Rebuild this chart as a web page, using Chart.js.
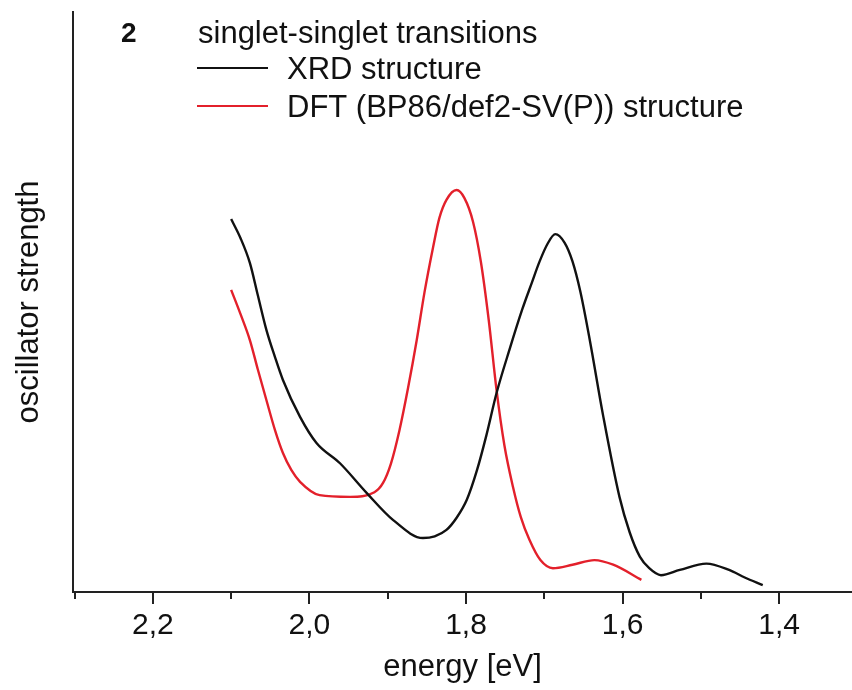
<!DOCTYPE html>
<html>
<head>
<meta charset="utf-8">
<script src="https://cdn.jsdelivr.net/npm/chart.js@4.4.1/dist/chart.umd.min.js"></script>
<style>
  html, body { margin: 0; padding: 0; background: #fff; }
</style>
</head>
<body>
<canvas id="chart" width="852" height="690"></canvas>
<script>
// values (energy in eV, oscillator strength in arbitrary units)
const xrdEnergy = [2.100, 2.088, 2.076, 2.066, 2.055, 2.044, 2.034, 2.012, 1.991, 1.961, 1.927, 1.893, 1.855, 1.840, 1.825, 1.812, 1.799, 1.786, 1.774, 1.761, 1.744, 1.728, 1.716, 1.706, 1.696, 1.686, 1.674, 1.664, 1.654, 1.642, 1.625, 1.604, 1.591, 1.578, 1.566, 1.551, 1.527, 1.493, 1.464, 1.444, 1.421]
const xrdStrength = [64.3, 61.0, 56.7, 51.2, 45.2, 40.5, 36.6, 30.2, 25.7, 22.2, 17.1, 12.4, 9.3, 9.6, 10.7, 12.8, 15.9, 21.0, 27.0, 34.3, 42.0, 48.8, 53.3, 57.0, 60.0, 61.7, 60.2, 57.0, 51.8, 43.5, 30.5, 16.4, 10.3, 6.1, 4.1, 2.9, 3.8, 4.9, 3.8, 2.5, 1.2]

const dftEnergy = [2.100, 2.088, 2.076, 2.066, 2.055, 2.044, 2.034, 2.023, 2.012, 1.987, 1.948, 1.917, 1.906, 1.896, 1.885, 1.874, 1.863, 1.853, 1.842, 1.834, 1.825, 1.812, 1.802, 1.791, 1.781, 1.771, 1.761, 1.751, 1.740, 1.730, 1.719, 1.705, 1.689, 1.664, 1.636, 1.612, 1.576]
const dftStrength = [52.1, 47.9, 43.4, 38.4, 33.1, 27.9, 24.0, 21.0, 19.0, 16.7, 16.4, 17.2, 18.8, 22.1, 27.9, 35.2, 43.4, 51.7, 59.5, 64.5, 67.6, 69.3, 67.9, 63.8, 56.9, 46.9, 34.8, 25.3, 18.1, 12.9, 9.0, 5.5, 4.1, 4.7, 5.5, 4.7, 2.1]

const majorTicks = [2.2, 2.0, 1.8, 1.6, 1.4]
const minorTicks = [2.3, 2.1, 1.9, 1.7, 1.5]

const compoundLabel = '2'
const plotTitle = 'singlet-singlet transitions'
const seriesLabels = ['XRD structure', 'DFT (BP86/def2-SV(P)) structure']

const fontFamily = '"Liberation Sans", Arial, Helvetica, sans-serif'
const axisColor = '#222'

const toPoints = (xs, ys) => xs.map((x, i) => ({ x, y: ys[i] }))
const formatTick = (value) => value.toFixed(1).replace('.', ',')

// major and minor tick marks hanging below the energy axis
const tickMarks = {
  id: 'tickMarks',
  afterDraw(chart) {
    const { ctx } = chart
    const scale = chart.scales.x
    ctx.save()
    ctx.strokeStyle = axisColor
    ctx.lineWidth = 2
    const mark = (value, length) => {
      const px = Math.round(scale.getPixelForValue(value))
      ctx.beginPath()
      ctx.moveTo(px, scale.top)
      ctx.lineTo(px, scale.top + length)
      ctx.stroke()
    }
    majorTicks.forEach((v) => mark(v, 12))
    minorTicks.forEach((v) => mark(v, 7))
    ctx.restore()
  }
}

// label "2", title and line legend in the upper left of the plot
const legendBlock = {
  id: 'legendBlock',
  afterDraw(chart) {
    const { ctx } = chart
    ctx.save()
    ctx.textBaseline = 'middle'
    ctx.textAlign = 'left'
    ctx.fillStyle = '#111'
    ctx.font = `bold 28px ${fontFamily}`
    ctx.fillText(compoundLabel, 121, 34)
    ctx.font = `31px ${fontFamily}`
    ctx.fillText(plotTitle, 198, 34)
    chart.data.datasets.forEach((ds, i) => {
      const y = 70 + i * 38
      ctx.strokeStyle = ds.borderColor
      ctx.lineWidth = 2
      ctx.beginPath()
      ctx.moveTo(197, y - 2)
      ctx.lineTo(268, y - 2)
      ctx.stroke()
      ctx.fillStyle = '#111'
      ctx.fillText(ds.label, 287, y)
    })
    ctx.restore()
  }
}

const canvas = document.getElementById('chart')

new Chart(canvas, {
  type: 'line',
  data: {
    datasets: [
      {
        label: seriesLabels[0],
        data: toPoints(xrdEnergy, xrdStrength),
        borderColor: '#111111',
        borderWidth: 2.4,
        pointRadius: 0,
        fill: false,
        cubicInterpolationMode: 'monotone'
      },
      {
        label: seriesLabels[1],
        data: toPoints(dftEnergy, dftStrength),
        borderColor: '#e3202b',
        borderWidth: 2.4,
        pointRadius: 0,
        fill: false,
        cubicInterpolationMode: 'monotone'
      }
    ]
  },
  options: {
    responsive: false,
    devicePixelRatio: 1,
    animation: false,
    layout: { padding: { top: 12, right: 0, bottom: 0, left: 0 } },
    plugins: {
      legend: { display: false },
      tooltip: { enabled: false }
    },
    scales: {
      x: {
        type: 'linear',
        reverse: true,
        min: 1.307,
        max: 2.302,
        afterBuildTicks: (scale) => {
          scale.ticks = majorTicks.map((value) => ({ value }))
        },
        afterFit: (scale) => { scale.height = 98 },
        grid: { display: false, drawTicks: false },
        border: { display: true, color: axisColor, width: 2 },
        ticks: {
          padding: 16,
          color: '#111',
          font: { family: fontFamily, size: 30 },
          callback: (value) => formatTick(value)
        },
        title: {
          display: true,
          text: 'energy [eV]',
          color: '#111',
          font: { family: fontFamily, size: 31 },
          padding: { top: 0, bottom: 4 }
        }
      },
      y: {
        min: 0,
        max: 100,
        afterFit: (scale) => { scale.width = 73 },
        grid: { display: false, drawTicks: false },
        border: { display: true, color: axisColor, width: 2 },
        ticks: { display: false },
        title: {
          display: true,
          text: 'oscillator strength',
          color: '#111',
          font: { family: fontFamily, size: 31 },
          padding: { top: 11, bottom: 0 }
        }
      }
    }
  },
  plugins: [tickMarks, legendBlock]
})
</script>
</body>
</html>
